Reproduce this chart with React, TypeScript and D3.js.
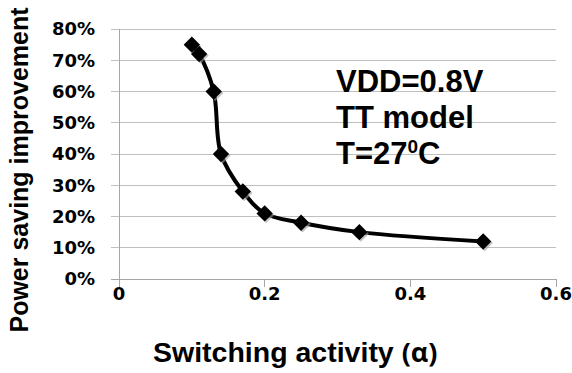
import React from "react";
import * as d3 from "d3";

const activity = [0.1, 0.11, 0.13, 0.14, 0.17, 0.2, 0.25, 0.33, 0.5];
const improvement = [0.75, 0.72, 0.6, 0.4, 0.28, 0.21, 0.18, 0.15, 0.12];
const xTicks = [0, 0.2, 0.4, 0.6];
const yTicks = [0, 0.1, 0.2, 0.3, 0.4, 0.5, 0.6, 0.7, 0.8];
const annotation = ["VDD=0.8V", "TT model"];

const W = 572;
const H = 373;

export default function App() {
  const x = d3.scaleLinear().domain([0, 0.6]).range([119, 556]);
  const y = d3.scaleLinear().domain([0, 0.8]).range([279, 29]);
  const pts: [number, number][] = activity.map((a, i) => [a, improvement[i]]);
  const line = d3
    .line<[number, number]>()
    .x((d) => x(d[0]))
    .y((d) => y(d[1]))
    .curve(d3.curveCatmullRom.alpha(0.5));
  const diamond = d3.symbol(d3.symbolDiamond2, 170)();
  const tickFont = "'DejaVu Sans', Verdana, sans-serif";
  const titleFont = "'Liberation Sans', Arial, sans-serif";
  return (
    <svg
      width={W}
      height={H}
      style={{ position: "absolute", left: 0, top: 0, display: "block", background: "#fff" }}
    >
      {yTicks.map((t) => (
        <line
          key={"g" + t}
          x1={111}
          x2={x(0.6)}
          y1={y(t)}
          y2={y(t)}
          stroke={t === 0 ? "#a6a6a6" : "#bfbfbf"}
          strokeWidth={1}
          shapeRendering="crispEdges"
        />
      ))}
      <line x1={x(0)} x2={x(0)} y1={y(0.8)} y2={y(0) + 8} stroke="#a6a6a6" shapeRendering="crispEdges" />
      {xTicks.map((t) => (
        <line
          key={"xt" + t}
          x1={x(t)}
          x2={x(t)}
          y1={y(0)}
          y2={y(0) + 8}
          stroke="#a6a6a6"
          shapeRendering="crispEdges"
        />
      ))}
      {yTicks.map((t) => (
        <text
          key={"yl" + t}
          x={95}
          y={y(t)}
          dy="0.36em"
          textAnchor="end"
          fontFamily={tickFont}
          fontWeight="bold"
          fontSize={18}
          fill="#000"
        >
          {Math.round(t * 100) + "%"}
        </text>
      ))}
      {xTicks.map((t) => (
        <text
          key={"xl" + t}
          x={x(t)}
          y={299.5}
          textAnchor="middle"
          fontFamily={tickFont}
          fontWeight="bold"
          fontSize={18}
          fill="#000"
        >
          {t === 0 ? "0" : String(t)}
        </text>
      ))}
      <path d={line(pts) || ""} fill="none" stroke="#000" strokeWidth={4} strokeLinejoin="round" />
      {pts.map((p, i) => (
        <g key={"m" + i}>
          <path d={diamond || ""} transform={`translate(${x(p[0]) + 1.5},${y(p[1]) + 1.5})`} fill="#9a9a9a" opacity={0.6} />
          <path d={diamond || ""} transform={`translate(${x(p[0])},${y(p[1])})`} fill="#000" />
        </g>
      ))}
      <text x={336} y={92} fontFamily={titleFont} fontWeight="bold" fontSize={31} fill="#000">
        {annotation[0]}
      </text>
      <text x={336} y={127.5} fontFamily={titleFont} fontWeight="bold" fontSize={31} fill="#000">
        {annotation[1]}
      </text>
      <text x={336} y={163.5} fontFamily={titleFont} fontWeight="bold" fontSize={31} fill="#000">
        T=27
        <tspan fontSize={19} dy={-11}>0</tspan>
        <tspan dy={11}>C</tspan>
      </text>
      <text x={153} y={362} fontFamily={titleFont} fontWeight="bold" fontSize={28.5} fill="#000">
        Switching activity{" "}
        <tspan fontFamily="'Open Sans', sans-serif" fontWeight={700} fontSize={27}>
          (α)
        </tspan>
      </text>
      <text
        transform="translate(28,170) rotate(-90)"
        textAnchor="middle"
        fontFamily={titleFont}
        fontWeight="bold"
        fontSize={25}
        fill="#000"
      >
        Power saving improvement
      </text>
    </svg>
  );
}
